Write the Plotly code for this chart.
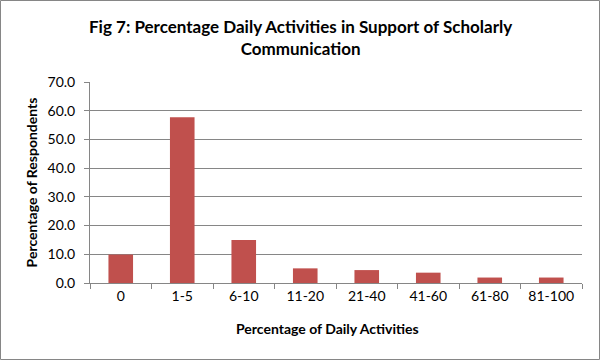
import plotly.graph_objects as go

categories = ["0", "1-5", "6-10", "11-20", "21-40", "41-60", "61-80", "81-100"]
percent_respondents = [9.9, 57.7, 15.0, 5.1, 4.5, 3.6, 1.9, 1.9]
y_ticks = [0, 10, 20, 30, 40, 50, 60, 70]
y_tick_labels = ["0.0", "10.0", "20.0", "30.0", "40.0", "50.0", "60.0", "70.0"]

W, H = 601, 361
L, R, T, B = 90, 19, 82, 78
pw, ph = W - L - R, H - T - B

fig = go.Figure(go.Bar(x=categories, y=percent_respondents, marker_color="#C0504D",
                       marker_line_width=0))

font_family = "Lato, Open Sans, sans-serif"
fig.update_layout(
    width=W, height=H,
    margin=dict(l=L, r=R, t=T, b=B, autoexpand=False),
    paper_bgcolor="white", plot_bgcolor="white",
    bargap=0.6,
    showlegend=False,
    font=dict(family=font_family, color="#000000"),
    xaxis=dict(
        type="category", automargin=False,
        tickson="boundaries", ticks="outside", ticklen=5, tickcolor="#868686",
        showline=True, linecolor="#868686", linewidth=1,
        tickfont=dict(size=14, color="#000000"),
    ),
    yaxis=dict(
        range=[0, 70], tickvals=y_ticks, ticktext=y_tick_labels, automargin=False,
        showgrid=True, gridcolor="#868686", gridwidth=1,
        ticks="outside", ticklen=5, tickcolor="#868686",
        showline=True, linecolor="#868686", linewidth=1, zeroline=False,
        ticklabelstandoff=6,
        tickfont=dict(size=14, color="#000000"),
        title=dict(text="<b>Percentage of Respondents</b>", font=dict(size=14), standoff=6),
    ),
    annotations=[
        dict(text="<b>Fig 7: Percentage Daily Activities in Support of Scholarly<br>Communication</b>",
             xref="paper", yref="paper", x=(300 - L) / pw, y=1 + (T - 37) / ph,
             xanchor="center", yanchor="middle", showarrow=False,
             font=dict(size=17, family=font_family, color="#000000")),
        dict(text="<b>Percentage of Daily Activities</b>",
             xref="paper", yref="paper", x=(327 - L) / pw, y=-(328 - (H - B)) / ph,
             xanchor="center", yanchor="middle", showarrow=False,
             font=dict(size=14, family=font_family, color="#000000")),
    ],
    shapes=[dict(type="rect", xref="paper", yref="paper",
                 x0=(-L + 0.5) / pw, x1=1 + (R - 1.5) / pw,
                 y0=(-B + 1.5) / ph, y1=1 + (T - 0.5) / ph,
                 line=dict(color="#868686", width=1), fillcolor="rgba(0,0,0,0)")],
)

fig.write_html("out.html", config={"displayModeBar": False},
               post_script="document.body.style.margin='0';document.body.style.padding='0';")
